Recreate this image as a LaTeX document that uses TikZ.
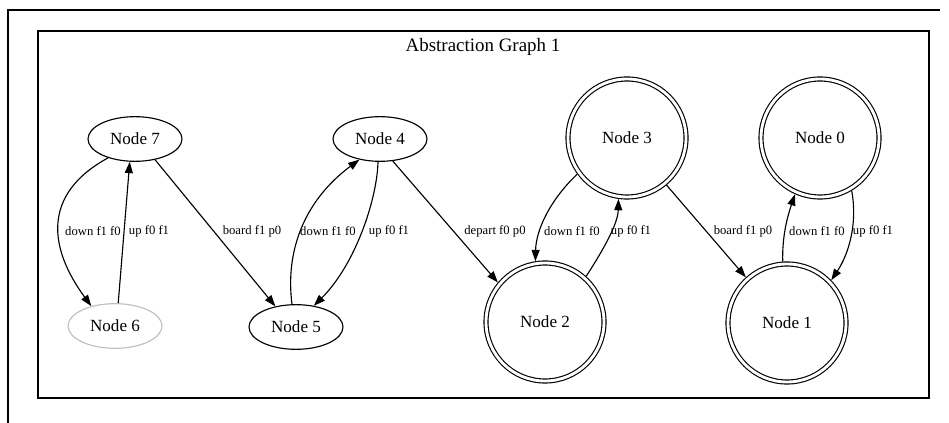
\documentclass[tikz,border=0pt]{standalone}
\usepackage{fontspec}
\setmainfont{Liberation Serif}
\usetikzlibrary{shapes.geometric,arrows.meta}
\tikzset{
  gvellipse/.style={ellipse, draw, line width=0.85pt, minimum width=70.5pt, minimum height=33.5pt, inner sep=0pt, font=\fontsize{12.8}{14}\selectfont},
  gvgrey/.style={gvellipse, draw=black!25},
  gvdouble/.style={circle, draw, line width=0.85pt, double, double distance=2.15pt, minimum size=88.5pt, inner sep=0pt, outer sep=1.9pt, font=\fontsize{12.8}{14}\selectfont},
  edge/.style={line width=0.85pt, -{Triangle[length=8.5pt,width=6pt]}},
  elabel/.style={font=\fontsize{9.5}{10}\selectfont, inner sep=0pt}
}
\begin{document}
\begin{tikzpicture}[x=0.75pt,y=-0.75pt]
\useasboundingbox (0,0) rectangle (949,423);
% outer frame (cropped)
\draw[line width=1.5pt] (8,423) -- (8,10) -- (940,10);
% cluster
\draw[line width=0.85pt] (38,31) rectangle (929,398);
\node[font=\fontsize{14.2}{16}\selectfont] (title) at (483,47) {Abstraction Graph 1};
% nodes
\node[gvellipse] (n7) at (135,139) {Node 7};
\node[gvgrey] (n6) at (115,326) {Node 6};
\node[gvellipse] (n5) at (296,327) {Node 5};
\node[gvellipse] (n4) at (380,139) {Node 4};
\node[gvdouble] (n3) at (627,138) {Node 3};
\node[gvdouble] (n2) at (545,322) {Node 2};
\node[gvdouble] (n0) at (820,138) {Node 0};
\node[gvdouble] (n1) at (787,323) {Node 1};
% edges
\draw[edge] (n7.215) .. controls (40,195) and (50,250) .. (n6.140);
\draw[edge] (n6.82) -- (n7.257);
\draw[edge] (n7.314) -- (n5.135);
\draw[edge] (n5.100) .. controls (285,250) and (305,200) .. (n4.225);
\draw[edge] (n4.265) .. controls (377,200) and (355,265) .. (n5.50);
\draw[edge] (n4.300) -- (n2.140);
\draw[edge] (n3.216) .. controls (550,200) and (536,230) .. (n2.99);
\draw[edge] (n2.48) .. controls (600,255) and (618,225) .. (n3.262);
\draw[edge] (n3.310) -- (n1.132);
\draw[edge] (n1.94) .. controls (782,235) and (788,215) .. (n0.246);
\draw[edge] (n0.301) .. controls (858,225) and (848,255) .. (n1.44);
% edge labels
\node[elabel] (l1) at (93,231) {down f1 f0};
\node[elabel] (l2) at (149,231) {up f0 f1};
\node[elabel] (l3) at (252,231) {board f1 p0};
\node[elabel] (l4) at (328,231) {down f1 f0};
\node[elabel] (l5) at (389,231) {up f0 f1};
\node[elabel] (l6) at (495,231) {depart f0 p0};
\node[elabel] (l7) at (572,231) {down f1 f0};
\node[elabel] (l8) at (631,231) {up f0 f1};
\node[elabel] (l9) at (743,231) {board f1 p0};
\node[elabel] (l10) at (817,231) {down f1 f0};
\node[elabel] (l11) at (873,231) {up f0 f1};
\end{tikzpicture}
\end{document}
